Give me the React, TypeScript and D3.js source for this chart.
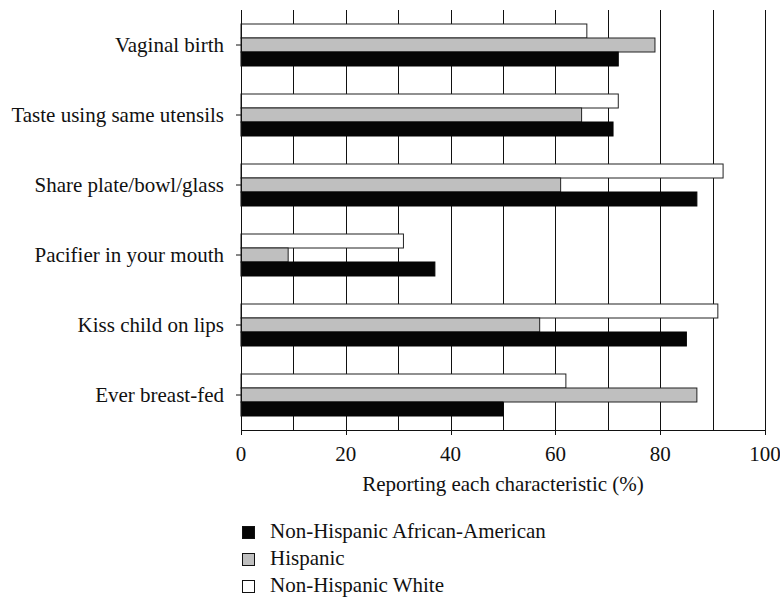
import React from "react";
import * as d3 from "d3";

const categories = [
  "Vaginal birth",
  "Taste using same utensils",
  "Share plate/bowl/glass",
  "Pacifier in your mouth",
  "Kiss child on lips",
  "Ever breast-fed",
];
const seriesNames = ["Non-Hispanic White", "Hispanic", "Non-Hispanic African-American"];
const whiteValues = [66, 72, 92, 31, 91, 62];
const hispanicValues = [79, 65, 61, 9, 57, 87];
const blackValues = [72, 71, 87, 37, 85, 50];
const xTicks = [0, 20, 40, 60, 80, 100];
const gridTicks = [10, 20, 30, 40, 50, 60, 70, 80, 90, 100];
const legendOrder = ["Non-Hispanic African-American", "Hispanic", "Non-Hispanic White"];

const fills: Record<string, string> = {
  "Non-Hispanic White": "#ffffff",
  Hispanic: "#bfbfbf",
  "Non-Hispanic African-American": "#050505",
};

export default function App() {
  const W = 780, H = 599;
  const left = 241, right = 765, top = 10, bottom = 430;
  const x = d3.scaleLinear().domain([0, 100]).range([left, right]);
  const y = d3.scaleBand<string>().domain(categories).range([top, bottom]).paddingInner(0.4).paddingOuter(0.2);
  const inner = d3.scaleBand<string>().domain(seriesNames).range([0, y.bandwidth()]);
  const valuesBySeries: Record<string, number[]> = {
    "Non-Hispanic White": whiteValues,
    Hispanic: hispanicValues,
    "Non-Hispanic African-American": blackValues,
  };
  const textStyle = { fontFamily: "Liberation Serif", fontSize: 21 };

  return (
    <svg width={W} height={H} style={{ position: "absolute", left: 0, top: 0 }}>
      <rect width={W} height={H} fill="#fff" />
      {gridTicks.map((t) => (
        <line key={"g" + t} x1={Math.round(x(t)) + 0.5} x2={Math.round(x(t)) + 0.5} y1={top} y2={bottom} stroke="#111" strokeWidth={1} />
      ))}
      {categories.map((c, i) =>
        seriesNames.map((s) => {
          const v = valuesBySeries[s][i];
          const yy = (y(c) as number) + (inner(s) as number);
          return (
            <rect
              key={c + s}
              x={x(0)}
              y={yy}
              width={x(v) - x(0)}
              height={inner.bandwidth()}
              fill={fills[s]}
              stroke={s === "Non-Hispanic African-American" ? "#050505" : "#222"}
              strokeWidth={1}
            />
          );
        })
      )}
      <line x1={left + 0.5} x2={left + 0.5} y1={top} y2={bottom} stroke="#111" />
      {categories.map((c) => {
        const cy = (y(c) as number) + y.bandwidth() / 2;
        return (
          <g key={"yl" + c}>
            <line x1={left - 5} x2={left} y1={cy} y2={cy} stroke="#111" />
            <text x={224} y={cy + 6.7} textAnchor="end" style={textStyle} fill="#111">
              {c}
            </text>
          </g>
        );
      })}
      <line x1={left} x2={right + 0.5} y1={bottom + 0.5} y2={bottom + 0.5} stroke="#111" />
      {xTicks.map((t) => (
        <g key={"xt" + t}>
          <line x1={Math.round(x(t)) + 0.5} x2={Math.round(x(t)) + 0.5} y1={bottom} y2={bottom + 5} stroke="#111" />
          <text x={x(t)} y={461} textAnchor="middle" style={textStyle} fill="#111">
            {t}
          </text>
        </g>
      ))}
      <text x={503} y={491} textAnchor="middle" style={textStyle} fill="#111">
        Reporting each characteristic (%)
      </text>
      {legendOrder.map((s, i) => (
        <g key={"lg" + s}>
          <rect x={242.5} y={526.5 + i * 27} width={12} height={12} fill={fills[s]} stroke="#111" />
          <text x={270} y={538 + i * 27} style={textStyle} fill="#111">
            {s}
          </text>
        </g>
      ))}
    </svg>
  );
}
